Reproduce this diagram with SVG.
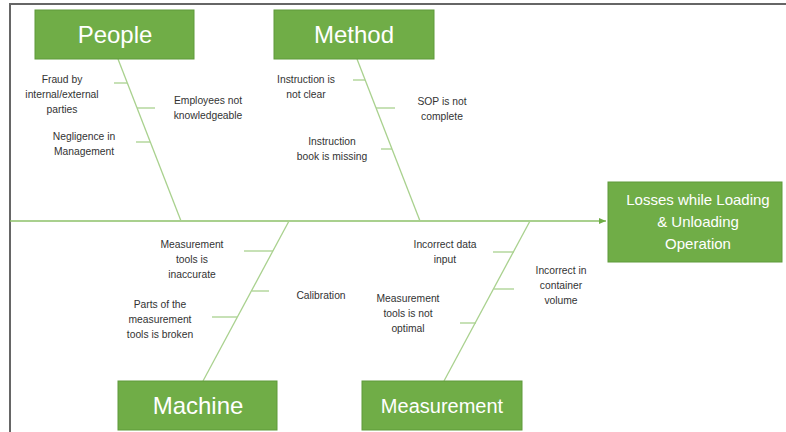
<svg xmlns="http://www.w3.org/2000/svg" width="786" height="432" viewBox="0 0 786 432">
<defs>
<marker id="arr" markerWidth="8" markerHeight="8" refX="7" refY="4" orient="auto" markerUnits="userSpaceOnUse">
<path d="M0,1 L7,4 L0,7 Z" fill="#70AD47"/>
</marker>
<style>
.box{fill:#70AD47;stroke:#5E9A3A;stroke-width:1}
.cat{font-family:"Liberation Sans",Arial,sans-serif;fill:#fff;text-anchor:middle}
.lbl{font-family:"Liberation Sans",Arial,sans-serif;font-size:10.3px;fill:#333;text-anchor:middle}
.bone{stroke:#A9D18E;stroke-width:1.3;fill:none}
.spine{stroke:#8CC068;stroke-width:1.6;fill:none}
</style>
</defs>
<rect width="786" height="432" fill="#fff"/>
<path d="M10,432 V4 H786" fill="none" stroke="#666" stroke-width="2"/>
<g id="connectors">
<line class="spine" x1="10" y1="221" x2="606" y2="221" marker-end="url(#arr)"/>
<line class="bone" x1="118" y1="59" x2="181" y2="221"/>
<line class="bone" x1="114" y1="83" x2="127" y2="83"/>
<line class="bone" x1="137" y1="108" x2="155" y2="108"/>
<line class="bone" x1="136" y1="142" x2="150" y2="142"/>
<line class="bone" x1="357" y1="59" x2="420" y2="221"/>
<line class="bone" x1="353" y1="80" x2="365" y2="80"/>
<line class="bone" x1="376" y1="108" x2="395" y2="108"/>
<line class="bone" x1="381" y1="149" x2="392" y2="149"/>
<line class="bone" x1="289" y1="221" x2="203" y2="381"/>
<line class="bone" x1="244" y1="251" x2="273" y2="251"/>
<line class="bone" x1="252" y1="291" x2="269" y2="291"/>
<line class="bone" x1="212" y1="317" x2="237" y2="317"/>
<line class="bone" x1="530" y1="221" x2="444" y2="381"/>
<line class="bone" x1="493" y1="252" x2="514" y2="252"/>
<line class="bone" x1="494" y1="289" x2="514" y2="289"/>
<line class="bone" x1="460" y1="323" x2="476" y2="323"/>
</g>
<g id="people">
<rect class="box" x="35" y="10" width="159" height="49"/>
<text class="cat" x="115" y="43" font-size="24">People</text>
</g>
<g id="method">
<rect class="box" x="274" y="10" width="160" height="49"/>
<text class="cat" x="354" y="43" font-size="24">Method</text>
</g>
<g id="machine">
<rect class="box" x="118" y="381" width="159" height="49"/>
<text class="cat" x="198" y="414" font-size="24">Machine</text>
</g>
<g id="measurement">
<rect class="box" x="362" y="381" width="160" height="49"/>
<text class="cat" x="442" y="413" font-size="20">Measurement</text>
</g>
<g id="effect">
<rect class="box" x="608" y="182" width="174" height="80"/>
<text class="cat" x="698" y="205" font-size="15">Losses while Loading</text>
<text class="cat" x="698" y="227" font-size="15">&amp; Unloading</text>
<text class="cat" x="698" y="249" font-size="15">Operation</text>
</g>
<g id="cause-fraud">
<text class="lbl" x="62" y="83">Fraud by</text>
<text class="lbl" x="62" y="98">internal/external</text>
<text class="lbl" x="62" y="113">parties</text>
</g>
<g id="cause-employees">
<text class="lbl" x="208" y="104">Employees not</text>
<text class="lbl" x="208" y="119">knowledgeable</text>
</g>
<g id="cause-negligence">
<text class="lbl" x="84" y="140">Negligence in</text>
<text class="lbl" x="84" y="155">Management</text>
</g>
<g id="cause-instruction">
<text class="lbl" x="306" y="83">Instruction is</text>
<text class="lbl" x="306" y="98">not clear</text>
</g>
<g id="cause-sop">
<text class="lbl" x="442" y="105">SOP is not</text>
<text class="lbl" x="442" y="120">complete</text>
</g>
<g id="cause-book">
<text class="lbl" x="332" y="145">Instruction</text>
<text class="lbl" x="332" y="160">book is missing</text>
</g>
<g id="cause-inaccurate">
<text class="lbl" x="192" y="248">Measurement</text>
<text class="lbl" x="192" y="263">tools is</text>
<text class="lbl" x="192" y="278">inaccurate</text>
</g>
<g id="cause-calibration">
<text class="lbl" x="321" y="299">Calibration</text>
</g>
<g id="cause-broken">
<text class="lbl" x="160" y="308">Parts of the</text>
<text class="lbl" x="160" y="323">measurement</text>
<text class="lbl" x="160" y="338">tools is broken</text>
</g>
<g id="cause-data">
<text class="lbl" x="445" y="248">Incorrect data</text>
<text class="lbl" x="445" y="263">input</text>
</g>
<g id="cause-container">
<text class="lbl" x="561" y="274">Incorrect in</text>
<text class="lbl" x="561" y="289">container</text>
<text class="lbl" x="561" y="304">volume</text>
</g>
<g id="cause-optimal">
<text class="lbl" x="408" y="302">Measurement</text>
<text class="lbl" x="408" y="317">tools is not</text>
<text class="lbl" x="408" y="332">optimal</text>
</g>
</svg>
